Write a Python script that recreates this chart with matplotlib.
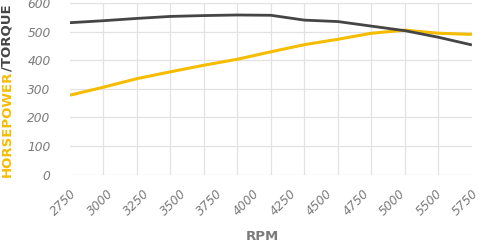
import numpy as np
import matplotlib
matplotlib.use("Agg")
from matplotlib import pyplot as plt

# data
rpm_labels = ["2750", "3000", "3250", "3500", "3750", "4000", "4250",
              "4500", "4750", "5000", "5500", "5750"]
horsepower = [278, 306, 336, 360, 383, 404, 430, 455, 474, 495, 506, 495, 491]
torque = [532, 539, 547, 554, 557, 559, 558, 541, 536, 520, 504, 481, 454]

yellow = "#f5bc00"
dark = "#454545"
tick_gray = "#7a7a7a"

fig = plt.figure(figsize=(4.82, 2.44), dpi=100)
ax = fig.add_axes([0.1452, 0.2848, 0.979 - 0.1452, 0.9865 - 0.2848])

xs = np.linspace(0, len(rpm_labels) - 1, len(horsepower))
ax.plot(xs, horsepower, color=yellow, lw=2.2, solid_capstyle="butt", zorder=3)
ax.plot(xs, torque, color=dark, lw=2.0, solid_capstyle="butt", zorder=4)

ax.set_xlim(0, len(rpm_labels) - 1)
ax.set_ylim(0, 600)
ax.set_yticks(np.arange(0, 601, 100))
ax.set_xticks(np.arange(len(rpm_labels)))
ax.set_xticklabels(rpm_labels, rotation=45, ha="right", rotation_mode="anchor")
ax.set_xticks(xs, minor=True)

ax.grid(True, which="minor", axis="x", color="#e2e2e2", lw=0.9)
ax.grid(True, which="major", axis="y", color="#e2e2e2", lw=0.9)
ax.set_axisbelow(True)
for s in ax.spines.values():
    s.set_visible(False)

ax.tick_params(axis="both", which="both", length=0)
ax.tick_params(axis="y", pad=14, labelsize=8.8, labelcolor=tick_gray)
ax.tick_params(axis="x", pad=9, labelsize=8.8, labelcolor=tick_gray)
for lab in ax.get_xticklabels() + ax.get_yticklabels():
    lab.set_fontstyle("italic")

fig.text(262 / 482, 1 - 236 / 244, "RPM", ha="center", va="center",
         fontsize=9.5, fontweight="bold", color=tick_gray)

# two-colour y label
t1 = fig.text(7 / 482, 1 - 177 / 244, "HORSEPOWER", rotation=90,
              ha="center", va="bottom", fontsize=9.5, fontweight="bold", color=yellow)
fig.canvas.draw()
bb = t1.get_window_extent()
fig.text(7 / 482, bb.y1 / fig.bbox.height, "/TORQUE", rotation=90,
         ha="center", va="bottom", fontsize=9.5, fontweight="bold", color=dark)

fig.savefig("out.png", dpi=100)
